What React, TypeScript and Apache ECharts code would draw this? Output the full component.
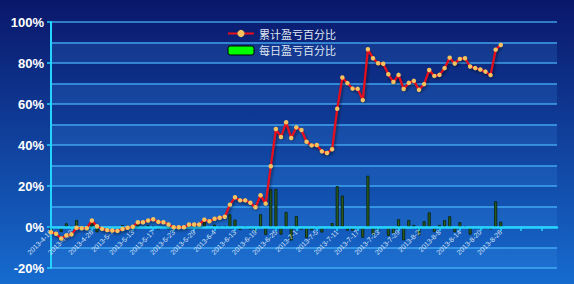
import React, { useEffect, useRef } from 'react';
import * as echarts from 'echarts';

const tradeDates = [
  '2013-4-16', '2013-4-17', '2013-4-18', '2013-4-19', '2013-4-22', '2013-4-23', '2013-4-24', '2013-4-25', '2013-4-26', '2013-5-2',
  '2013-5-3', '2013-5-6', '2013-5-7', '2013-5-8', '2013-5-9', '2013-5-10', '2013-5-13', '2013-5-14', '2013-5-15', '2013-5-16',
  '2013-5-17', '2013-5-20', '2013-5-21', '2013-5-22', '2013-5-23', '2013-5-24', '2013-5-27', '2013-5-28', '2013-5-29', '2013-5-30',
  '2013-5-31', '2013-6-3', '2013-6-4', '2013-6-5', '2013-6-6', '2013-6-7', '2013-6-13', '2013-6-14', '2013-6-17', '2013-6-18',
  '2013-6-19', '2013-6-20', '2013-6-21', '2013-6-24', '2013-6-25', '2013-6-26', '2013-6-27', '2013-6-28', '2013-7-1', '2013-7-2',
  '2013-7-3', '2013-7-4', '2013-7-5', '2013-7-8', '2013-7-9', '2013-7-10', '2013-7-11', '2013-7-12', '2013-7-15', '2013-7-16',
  '2013-7-17', '2013-7-18', '2013-7-19', '2013-7-22', '2013-7-23', '2013-7-24', '2013-7-25', '2013-7-26', '2013-7-29', '2013-7-30',
  '2013-7-31', '2013-8-1', '2013-8-2', '2013-8-5', '2013-8-6', '2013-8-7', '2013-8-8', '2013-8-9', '2013-8-12', '2013-8-13',
  '2013-8-14', '2013-8-15', '2013-8-16', '2013-8-19', '2013-8-20', '2013-8-21', '2013-8-22', '2013-8-23', '2013-8-26',
];
// empty trailing categories (axis continues past the last date)
const emptyCategories = ['', '', '', '', '', '', '', '', '', '', ''];

const cumulativePct = [
  -2.5, -3.3, -5.6, -4.1, -3.6, -0.4, -0.6, -0.6, 3.2, 0.4,
  -0.9, -1.5, -1.7, -1.9, -1.0, -0.4, 0.1, 2.3, 2.3, 3.2,
  3.8, 2.5, 2.3, 1.2, -0.1, -0.1, -0.1, 1.2, 1.2, 1.2,
  3.6, 2.8, 4.0, 4.5, 5.0, 10.9, 14.5, 13.0, 13.0, 11.8,
  9.6, 15.5, 11.4, 29.6, 47.8, 43.9, 51.1, 43.4, 48.6, 47.3,
  41.6, 39.8, 40.0, 36.9, 36.1, 37.9, 57.7, 72.9, 70.2, 67.5,
  67.4, 61.9, 86.7, 82.3, 79.9, 79.6, 74.5, 70.7, 74.2, 67.3,
  70.3, 71.3, 66.9, 69.7, 76.6, 73.7, 74.2, 77.5, 82.6, 79.7,
  82.0, 82.3, 78.3, 77.5, 76.8, 75.8, 74.1, 86.5, 88.8,
];

const dailyPct = [
  -2.4, -0.8, -2.4, 1.8, 0.5, 3.4, -0.2, 0.0, 3.8, -2.6,
  -1.2, -0.6, -0.2, -0.2, 0.9, 0.6, 0.5, 2.2, 0.0, 0.9,
  0.6, -1.2, -0.2, -1.1, -1.2, 0.0, 0.0, 1.3, 0.0, 0.0,
  2.4, -0.8, 1.2, 0.5, 0.5, 6.2, 3.6, -1.4, 0.0, -1.2,
  -2.1, 6.2, -3.8, 18.4, 18.5, -3.7, 7.3, -6.6, 5.3, -1.3,
  -5.4, -1.6, 0.2, -2.7, -0.8, 1.9, 19.9, 15.3, -1.8, -1.8,
  -0.1, -5.2, 25.0, -3.8, -1.8, -0.3, -4.3, -3.2, 3.8, -6.5,
  3.4, 1.0, -4.1, 2.8, 7.1, -2.5, 1.0, 3.3, 5.2, -2.5,
  2.3, 0.4, -3.7, -0.8, -0.7, -1.0, -1.2, 12.5, 2.6,
];

const seriesNames = ['累计盈亏百分比', '每日盈亏百分比'];
const yMin = -20;
const yMax = 100;
const yStep = 20;

export default function App() {
  const ref = useRef<HTMLDivElement>(null);

  useEffect(() => {
    if (!ref.current) return;
    const chart = echarts.init(ref.current, null, { renderer: 'svg' });
    const categories = tradeDates.concat(emptyCategories);
    const H = 284;
    const gridTop = 22;
    const gridBottom = 16;
    const plotH = H - gridTop - gridBottom;
    // pixel row of the 0% value, for the label strip that sits on it
    const zeroY = gridTop + plotH * (yMax - 0) / (yMax - yMin);
    const axisColor = '#24d4ff';
    chart.setOption({
      animation: false,
      backgroundColor: {
        type: 'linear', x: 0, y: 0, x2: 0, y2: 1,
        colorStops: [
          { offset: 0, color: '#0a176a' },
          { offset: 1, color: '#166bcf' },
        ],
      },
      legend: {
        orient: 'vertical',
        left: 222,
        top: 23,
        itemWidth: 26,
        itemHeight: 9,
        itemGap: 6,
        textStyle: { color: '#dfe6f2', fontSize: 11, fontFamily: 'Noto Sans CJK SC' },
        data: [
          { name: seriesNames[0] },
          { name: seriesNames[1], itemStyle: { color: '#00ff00', borderColor: '#000000', borderWidth: 1 } },
        ],
      },
      grid: [
        { left: 51, right: 17, top: gridTop, bottom: gridBottom, containLabel: false, outerBoundsMode: 'none' },
        { left: 51, right: 17, top: gridTop, bottom: H - zeroY, containLabel: false, outerBoundsMode: 'none' },
      ],
      xAxis: [
        {
          type: 'category',
          gridIndex: 0,
          data: categories,
          boundaryGap: false,
          axisLine: { show: false },
          axisTick: { show: false },
          axisLabel: { show: false },
          splitLine: { show: false },
        },
        {
          type: 'category',
          gridIndex: 1,
          data: categories,
          boundaryGap: false,
          position: 'bottom',
          axisLine: { show: true, lineStyle: { color: axisColor, width: 2.5 } },
          axisTick: { show: true, interval: 3, length: 4, inside: false, lineStyle: { color: axisColor, width: 1.5 } },
          axisLabel: {
            interval: 3,
            rotate: 45,
            fontSize: 7,
            color: '#d6e2f4',
            margin: 4,
            fontFamily: 'Arial',
          },
          splitLine: { show: false },
          z: 5,
        },
      ],
      yAxis: [
        {
          type: 'value',
          gridIndex: 0,
          min: yMin,
          max: yMax,
          interval: yStep,
          axisLine: { show: true, lineStyle: { color: axisColor, width: 2 } },
          axisTick: { show: true, length: 4, lineStyle: { color: axisColor, width: 1.5 } },
          axisLabel: {
            formatter: '{value}%',
            color: '#ffffff',
            fontSize: 13,
            fontWeight: 'bold',
            fontFamily: 'Arial',
            margin: 7,
          },
          splitLine: { show: false },
        },
        {
          type: 'value',
          gridIndex: 0,
          min: yMin,
          max: yMax,
          interval: yStep / 2,
          position: 'left',
          axisLine: { show: false },
          axisTick: { show: false },
          axisLabel: { show: false },
          splitLine: { show: true, lineStyle: { color: 'rgba(70,180,250,0.85)', width: 1.5 } },
          splitArea: { show: true, areaStyle: { color: ['rgba(60,150,240,0.18)', 'rgba(0,0,0,0)'] } },
        },
        {
          type: 'value',
          gridIndex: 1,
          min: 0,
          max: 1,
          show: false,
        },
      ],
      series: [
        {
          name: seriesNames[1],
          type: 'bar',
          xAxisIndex: 0,
          yAxisIndex: 0,
          data: dailyPct,
          barWidth: 3,
          itemStyle: { color: '#2b5e22', borderColor: '#0a1e08', borderWidth: 0.8 },
          z: 2,
        },
        {
          name: seriesNames[0],
          type: 'line',
          xAxisIndex: 0,
          yAxisIndex: 0,
          data: cumulativePct,
          symbol: 'circle',
          symbolSize: 4.5,
          showSymbol: true,
          showAllSymbol: true,
          itemStyle: { color: '#f5c25e' },
          lineStyle: {
            color: '#e8101c',
            width: 2.2,
            shadowColor: 'rgba(0,0,0,0.55)',
            shadowBlur: 3,
            shadowOffsetX: 1,
            shadowOffsetY: 2,
          },
          z: 6,
        },
      ],
    });
    return () => chart.dispose();
  }, []);

  return (
    <div
      ref={ref}
      style={{ position: 'fixed', left: 0, top: 0, width: 574, height: 284 }}
    />
  );
}
